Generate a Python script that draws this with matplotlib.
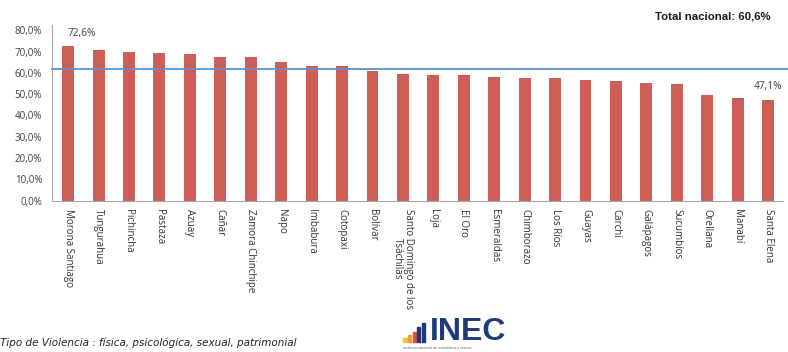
import matplotlib.pyplot as plt
from matplotlib.patches import Rectangle

plt.rcParams['font.family'] = ['Open Sans', 'DejaVu Sans']

provincias = ["Morona Santiago", "Tungurahua", "Pichincha", "Pastaza", "Azuay", "Cañar",
              "Zamora Chinchipe", "Napo", "Imbabura", "Cotopaxi", "Bolívar",
              "Santo Domingo de los\nTsáchilas", "Loja", "El Oro", "Esmeraldas", "Chimborazo",
              "Los Ríos", "Guayas", "Carchi", "Galápagos", "Sucumbíos", "Orellana", "Manabí",
              "Santa Elena"]
porcentajes = [72.6, 70.6, 69.6, 69.5, 68.7, 67.5, 67.5, 65.1, 63.4, 63.1, 61.0, 59.5,
               59.2, 59.0, 58.1, 57.4, 57.6, 56.5, 56.2, 55.2, 54.8, 49.4, 48.2, 47.1]
linea_nacional = 62.0   # donde se dibuja la línea azul en la imagen
total_nacional = "Total nacional: 60,6%"
y_ticks = [0, 10, 20, 30, 40, 50, 60, 70, 80]

fig = plt.figure(figsize=(7.88, 3.52), dpi=100)
ax = fig.add_axes([0.066, 0.430, 0.928, 0.499])

x = list(range(len(provincias)))
ax.bar(x, porcentajes, width=0.39, color='#cd5f58', zorder=2)
ax.axhline(linea_nacional, color='#5b93cf', lw=1.3, zorder=3, clip_on=False,
           xmin=0, xmax=1.01)

ax.set_xlim(-0.53, 23.5)
ax.set_ylim(0, 82.5)
ax.set_yticks(y_ticks)
ax.set_yticklabels([f"{v:.1f}%".replace('.', ',') for v in y_ticks])
ax.set_xticks(x)
ax.set_xticklabels(provincias, rotation=270, ha='center', va='top', fontsize=7,
                   linespacing=1.0)
ax.tick_params(axis='y', length=0, pad=7, labelsize=7, labelcolor='#404040')
ax.tick_params(axis='x', length=0, pad=6, labelcolor='#303030')

for s in ['top', 'right']:
    ax.spines[s].set_visible(False)
ax.spines['left'].set_color('#a6a6a6')
ax.spines['bottom'].set_color('#a6a6a6')

# etiquetas de extremos
ax.text(0.45, 78.5, "72,6%", ha='center', va='center', fontsize=7.3, color='#404040')
ax.text(23, 53.5, "47,1%", ha='center', va='center', fontsize=7.3, color='#404040')

fig.text(0.978, 0.952, total_nacional, ha='right', va='center', fontsize=8.2,
         fontweight='bold', color='#1a1a1a', family='Liberation Sans')

# nota al pie
fig.text(0.0, 0.027, "Tipo de Violencia : física, psicológica, sexual, patrimonial",
         ha='left', va='center', fontsize=7.5, style='italic', color='#202020',
         family='DejaVu Sans')

# logo INEC
bar_cols = ['#f2c12e', '#f2a03a', '#d9572b', '#1f3a7a', '#1f3a7a']
bar_h = [0.012, 0.02, 0.03, 0.042, 0.055]
for i, (c, h) in enumerate(zip(bar_cols, bar_h)):
    fig.patches.append(Rectangle((0.512 + i * 0.0058, 0.028), 0.0042, h,
                                 transform=fig.transFigure, color=c))
fig.text(0.546, 0.058, "INEC", ha='left', va='center', fontsize=23, color='#1f3a7a',
         family='Liberation Sans', fontweight='bold')
fig.text(0.512, 0.012, "instituto nacional de estadística y censos", ha='left',
         va='center', fontsize=2.6, color='#555555')

fig.savefig("out.png", dpi=100)
